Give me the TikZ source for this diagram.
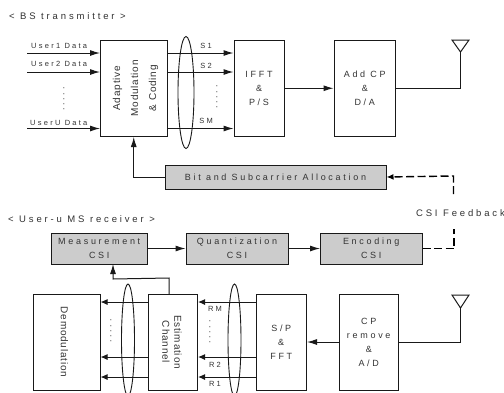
\documentclass[tikz,border=0pt]{standalone}
\usepackage{fontspec}
\setmainfont[LetterSpace=30]{Liberation Sans}
\newfontfamily\tightfont[LetterSpace=8]{Liberation Sans}
\usetikzlibrary{arrows.meta}
\definecolor{boxgray}{gray}{0.8}
\definecolor{inkgray}{gray}{0.2}
\tikzset{
  x=1pt,y=-1pt,
  blk/.style={draw=black!90,line width=1pt,align=center,font=\fontsize{9}{14}\selectfont,text=inkgray,inner sep=0pt},
  graybox/.style={blk,fill=boxgray},
  lab/.style={font=\fontsize{7.5}{8}\selectfont,text=inkgray,inner sep=0pt},
  ttl/.style={font=\fontsize{9.5}{10}\selectfont,text=inkgray,inner sep=0pt},
  conn/.style={line width=1pt,draw=black!90},
  arr/.style={conn,-{Latex[length=10pt,width=6pt]}},
  arrs/.style={conn,-{Latex[length=7pt,width=6pt]}},
  dashline/.style={line width=1.4pt,dash pattern=on 8pt off 3.5pt},
  oval/.style={draw=black!90,line width=0.9pt},
  dotsv/.style={lab,rotate=90,font=\fontsize{9}{9}\selectfont},
}
\begin{document}
\begin{tikzpicture}
\useasboundingbox (0,0) rectangle (504,392);
\fill[white] (0,0) rectangle (504,392);
% titles
\node[ttl,anchor=west] (t1) at (9,16) {< BS transmitter >};
\node[ttl,anchor=west] (t2) at (8,219) {< User-u MS receiver >};
\node[ttl,anchor=east] (t3) at (505,213) {CSI Feedback};
% top boxes
\node[blk,minimum width=66.5pt,minimum height=96.5pt] (amc) at (133.75,88.25) {\hspace{4pt}\rotatebox{90}{\tightfont\fontsize{10}{12}\selectfont\begin{tabular}{@{}c@{}}Adaptive\\[6pt]Modulation\\[6pt]\& Coding\end{tabular}}};
\node[blk,minimum width=50pt,minimum height=96.5pt] (ifft) at (259,88.25) {IFFT\\\&\\P/S};
\node[blk,minimum width=61.5pt,minimum height=96.5pt] (addcp) at (364.75,88.25) {Add CP\\\&\\D/A};
\node[graybox,minimum width=221pt,minimum height=24pt] (bit) at (275.5,177) {Bit and Subcarrier Allocation};
% gray boxes
\node[graybox,minimum width=96.5pt,minimum height=31pt] (meas) at (99.25,248.5) {Measurement\\CSI};
\node[graybox,minimum width=102pt,minimum height=31pt] (quant) at (237,248.5) {Quantization\\CSI};
\node[graybox,minimum width=101.5pt,minimum height=31pt] (enc) at (371.25,248.5) {Encoding\\CSI};
% bottom boxes
\node[blk,minimum width=67pt,minimum height=96pt] (demod) at (66.5,342) {\rotatebox{-90}{\tightfont\fontsize{10}{12}\selectfont Demodulation}\hspace{4pt}};
\node[blk,minimum width=49.5pt,minimum height=96pt] (est) at (172.75,342) {\rotatebox{-90}{\tightfont\fontsize{10}{12}\selectfont\begin{tabular}{@{}c@{}}Estimation\\Channel\end{tabular}}\hspace{4pt}};
\node[blk,minimum width=50.5pt,minimum height=96pt] (sp) at (281.25,342) {S/P\\\&\\FFT};
\node[blk,minimum width=59.5pt,minimum height=96pt] (cprm) at (368.75,342) {CP\\remove\\\&\\A/D};
% free ends
\coordinate (u1) at (27,53);
\coordinate (u2) at (27,72);
\coordinate (uu) at (27,128.5);
\coordinate (ant1) at (460.5,52);
\coordinate (ant2) at (460.5,308);
\coordinate (fbtop) at (453.5,176);
\coordinate (fbend) at (453.5,194);
\coordinate (fbs) at (454,229);
\coordinate (fbe) at (454,248.5);
% antennas
\draw[conn] (ant1) -- (452,40) -- (469,40) -- cycle;
\draw[conn] (ant2) -- (452,295) -- (469,295) -- cycle;
\draw[conn] (addcp.east) -- (ant1 |- addcp.east) -- (ant1);
\draw[conn] (ant2) -- (ant2 |- cprm.east) -- (cprm.east);
% top connectors
\draw[arr] (u1) -- (u1 -| amc.west);
\draw[arr] (u2) -- (u2 -| amc.west);
\draw[arr] (uu) -- (uu -| amc.west);
\draw[arr] (amc.east |- u1) -- (ifft.west |- u1);
\draw[arr] (amc.east |- u2) -- (ifft.west |- u2);
\draw[arr] (amc.east |- uu) -- (ifft.west |- uu);
\draw[arr] (ifft.east) -- (addcp.west);
\draw[arr] (bit.west) -- (bit.west -| amc.south) -- (amc.south);
\draw[dashline,-{Latex[length=7pt,width=6pt]}] (fbend) -- (fbtop) -- (bit.east);
\draw[dashline] (enc.east) -- (fbe) -- (fbs);
% middle
\draw[arr] (meas.east) -- (quant.west);
\draw[arr] (quant.east) -- (enc.west);
\draw[arr] (169,294) -- (169,278) -- (113,279) -- (113,264);
% bottom
\draw[arr] (cprm.west) -- (sp.east);
\foreach \y/\n in {302/a,357/b,377/c}{
  \draw[arrs] (est.west |- 0,\y) -- (demod.east |- 0,\y);
  \draw[arrs] (sp.west |- 0,\y) -- (est.east |- 0,\y);
}
% ovals
\draw[oval] (186,92.5) ellipse [x radius=8,y radius=56];
\begin{scope}
\clip (0,0) rectangle (504,392);
\draw[oval] (128,340) ellipse [x radius=6.5,y radius=56];
\draw[oval] (234.5,340) ellipse [x radius=6.5,y radius=56];
\end{scope}
% labels
\node[lab,anchor=west] (l1) at (31,45.5) {User1 Data};
\node[lab,anchor=west] (l2) at (31,64) {User2 Data};
\node[lab,anchor=west] (l3) at (30,123) {UserU Data};
\node[lab] (s1) at (206,45.5) {S1};
\node[lab] (s2) at (206,66) {S2};
\node[lab] (sm) at (206,121) {SM};
\node[lab] (r3) at (215,309) {RM};
\node[lab] (r2) at (215,365) {R2};
\node[lab] (r1) at (215,384) {R1};
\node[dotsv] (d1) at (64,99) {.....};
\node[dotsv] (d2) at (217,97) {.....};
\node[dotsv] (d3) at (111,331) {.....};
\node[dotsv] (d4) at (210,332) {.....};
\end{tikzpicture}
\end{document}
